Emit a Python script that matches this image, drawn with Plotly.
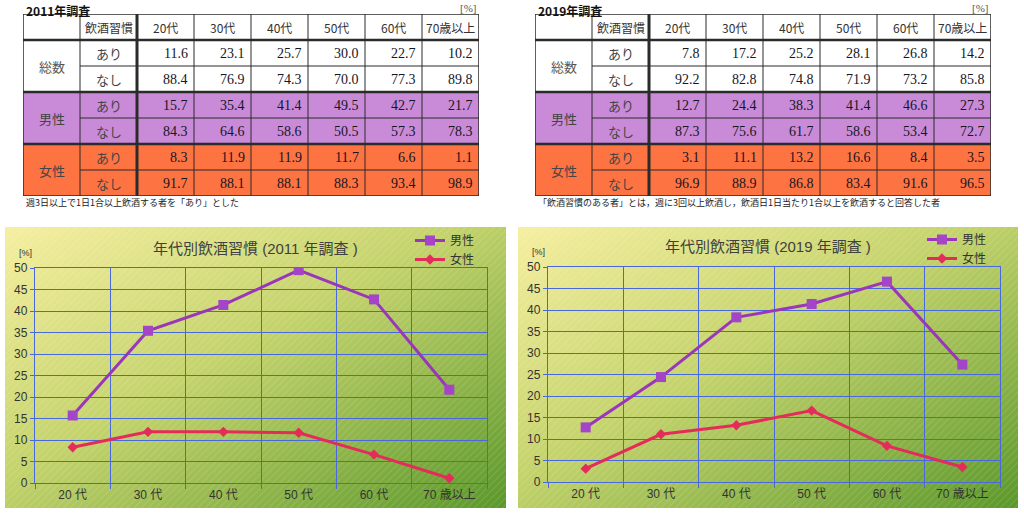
import base64
import plotly.graph_objects as go

# ---------------- data ----------------
ages = ["20代", "30代", "40代", "50代", "60代", "70歳以上"]
chart_ages = ["20 代", "30 代", "40 代", "50 代", "60 代", "70 歳以上"]
habit_labels = ["あり", "なし"]
group_labels = ["総数", "男性", "女性"]
header_label = "飲酒習慣"

total_yes_2011 = [11.6, 23.1, 25.7, 30.0, 22.7, 10.2]
total_no_2011 = [88.4, 76.9, 74.3, 70.0, 77.3, 89.8]
male_yes_2011 = [15.7, 35.4, 41.4, 49.5, 42.7, 21.7]
male_no_2011 = [84.3, 64.6, 58.6, 50.5, 57.3, 78.3]
female_yes_2011 = [8.3, 11.9, 11.9, 11.7, 6.6, 1.1]
female_no_2011 = [91.7, 88.1, 88.1, 88.3, 93.4, 98.9]

total_yes_2019 = [7.8, 17.2, 25.2, 28.1, 26.8, 14.2]
total_no_2019 = [92.2, 82.8, 74.8, 71.9, 73.2, 85.8]
male_yes_2019 = [12.7, 24.4, 38.3, 41.4, 46.6, 27.3]
male_no_2019 = [87.3, 75.6, 61.7, 58.6, 53.4, 72.7]
female_yes_2019 = [3.1, 11.1, 13.2, 16.6, 8.4, 3.5]
female_no_2019 = [96.9, 88.9, 86.8, 83.4, 91.6, 96.5]

table_titles = ["2011年調査", "2019年調査"]
table_notes = ["週3日以上で1日1合以上飲酒する者を「あり」とした",
               "「飲酒習慣のある者」とは，週に3回以上飲酒し，飲酒日1日当たり1合以上を飲酒すると回答した者"]
chart_titles = ["年代別飲酒習慣 (2011 年調査 )", "年代別飲酒習慣 (2019 年調査 )"]
series_names = ["男性", "女性"]
unit_label = "[%]"

# ---------------- styling ----------------
W, H = 1024, 513
JP = "Noto Sans CJK JP, Liberation Sans, sans-serif"
SANS = "Liberation Sans, Noto Sans CJK JP, sans-serif"
SERIF = "Liberation Serif, DejaVu Serif, serif"
group_fill = ["#ffffff", "#c98bd8", "#fe7342"]
border = "#2b2b2b"
grid = "#4868dc"
male_line = "#9a36bb"
male_marker = "#a444c8"
female_line = "#e42c5a"


def px(x):
    return x / W


def py(y):
    return 1 - y / H


fig = go.Figure()

tables = [
    dict(xa="x", ya="y", left=23, right=479,
         data=[[total_yes_2011, total_no_2011], [male_yes_2011, male_no_2011],
               [female_yes_2011, female_no_2011]]),
    dict(xa="x2", ya="y2", left=535, right=991,
         data=[[total_yes_2019, total_no_2019], [male_yes_2019, male_no_2019],
               [female_yes_2019, female_no_2019]]),
]
tab_top, tab_bottom = 14, 196
ncols = 2 + len(ages)
nrows = 1 + 2 * len(group_labels)

shapes = []
annotations = []


def ann(**kw):
    base = dict(showarrow=False, xanchor="center", yanchor="middle")
    base.update(kw)
    annotations.append(base)


for ti, t in enumerate(tables):
    xa, ya = t["xa"], t["ya"]
    axkey = "xaxis" if xa == "x" else "xaxis2"
    aykey = "yaxis" if ya == "y" else "yaxis2"
    fig.update_layout(**{
        axkey: dict(domain=[px(t["left"]), px(t["right"])], range=[0, ncols],
                    visible=False, fixedrange=True, anchor=ya),
        aykey: dict(domain=[py(tab_bottom), py(tab_top)], range=[nrows, 0],
                    visible=False, fixedrange=True, anchor=xa),
    })
    # fills
    for g in range(len(group_labels)):
        shapes.append(dict(type="rect", xref=xa, yref=ya, x0=0, x1=ncols,
                           y0=1 + 2 * g, y1=3 + 2 * g, fillcolor=group_fill[g],
                           line=dict(width=0), layer="below"))
    # grid lines
    for r in range(2, nrows, 2):
        shapes.append(dict(type="line", xref=xa, yref=ya, x0=1, x1=ncols, y0=r, y1=r,
                           line=dict(color=border, width=1)))
    for r in [1, 3, 5]:
        shapes.append(dict(type="line", xref=xa, yref=ya, x0=0, x1=ncols, y0=r, y1=r,
                           line=dict(color=border, width=2.5)))
    for c in range(1, ncols):
        shapes.append(dict(type="line", xref=xa, yref=ya, x0=c, x1=c, y0=0, y1=nrows,
                           line=dict(color=border, width=3 if c == 2 else 1)))
    shapes.append(dict(type="rect", xref=xa, yref=ya, x0=0, x1=ncols, y0=0, y1=nrows,
                       line=dict(color=border, width=1.5)))
    # header
    ann(xref=xa, yref=ya, x=1.5, y=0.5, text=header_label,
        font=dict(family=JP, size=12, color="#333"))
    for i, a in enumerate(ages):
        ann(xref=xa, yref=ya, x=2.5 + i, y=0.5, text=a,
            font=dict(family=JP, size=12, color="#333"))
    # body
    for g, gl in enumerate(group_labels):
        ann(xref=xa, yref=ya, x=0.5, y=2 + 2 * g, text=gl,
            font=dict(family=JP, size=13, color="#555" if g == 0 else "#444"))
        for h, hl in enumerate(habit_labels):
            r = 1 + 2 * g + h
            ann(xref=xa, yref=ya, x=1.5, y=r + 0.5, text=hl,
                font=dict(family=JP, size=13, color="#444"))
            for i, v in enumerate(t["data"][g][h]):
                ann(xref=xa, yref=ya, x=3 + i, y=r + 0.5, text=f"{v:.1f}",
                    xanchor="right", xshift=-4,
                    font=dict(family=SERIF, size=14, color="#16161f"))
    # title, unit, note
    ann(xref="paper", yref="paper", x=px(t["left"] + 1), y=py(0), xanchor="left",
        yanchor="top", text="<b>" + table_titles[ti] + "</b>",
        font=dict(family=JP, size=12, color="#111"))
    ann(xref="paper", yref="paper", x=px(t["right"]), y=py(0), xanchor="right",
        yanchor="top", text=unit_label, font=dict(family=SERIF, size=11, color="#555"))
    ann(xref="paper", yref="paper", x=px(t["left"] + 1), y=py(203), xanchor="left",
        text=table_notes[ti], font=dict(family=JP, size=9, color="#222"))

# ---------------- charts ----------------
svg = """<svg xmlns='http://www.w3.org/2000/svg' width='500' height='282' viewBox='0 0 500 282' preserveAspectRatio='none'>
<defs>
<linearGradient id='g' x1='0' y1='0' x2='1' y2='1'>
<stop offset='0' stop-color='#f6efa0'/>
<stop offset='0.45' stop-color='#c4d36c'/>
<stop offset='1' stop-color='#5b982b'/>
</linearGradient>
<pattern id='p' width='5' height='5' patternUnits='userSpaceOnUse' patternTransform='rotate(45)'>
<line x1='0' y1='0' x2='0' y2='5' stroke='white' stroke-opacity='0.18' stroke-width='1.4'/>
</pattern>
</defs>
<rect width='500' height='282' fill='url(#g)'/>
<rect width='500' height='282' fill='url(#p)'/>
</svg>"""
bg_src = "data:image/svg+xml;base64," + base64.b64encode(svg.encode()).decode()

charts = [
    dict(xa="x3", ya="y3", panel=(5, 227, 506, 508), plot=(35, 268, 487, 483),
         male=male_yes_2011, female=female_yes_2011, legend="legend",
         title_x=255, title_y=248, leg_x=410),
    dict(xa="x4", ya="y4", panel=(518, 227, 1018, 508), plot=(548, 267, 1000, 482),
         male=male_yes_2019, female=female_yes_2019, legend="legend2",
         title_x=768, title_y=247, leg_x=922),
]

images = []
for ci, c in enumerate(charts):
    p0x, p0y, p1x, p1y = c["panel"]
    images.append(dict(source=bg_src, xref="paper", yref="paper", x=px(p0x), y=py(p0y),
                       sizex=px(p1x - p0x), sizey=(p1y - p0y) / H, sizing="stretch",
                       xanchor="left", yanchor="top", layer="below"))
    l, tp, r, b = c["plot"]
    xk = "xaxis" + c["xa"][1:]
    yk = "yaxis" + c["ya"][1:]
    fig.update_layout(**{
        xk: dict(domain=[px(l), px(r)], anchor=c["ya"], type="category",
                 categoryorder="array", categoryarray=chart_ages, range=[-0.5, len(chart_ages) - 0.5],
                 tickson="boundaries", showgrid=True, gridcolor=grid, gridwidth=1.3,
                 showline=True, linecolor=grid, linewidth=1.3, mirror=True,
                 ticks="outside", ticklen=5, tickcolor=grid, tickwidth=1.3,
                 tickfont=dict(family=SANS, size=12, color="#333"), fixedrange=True),
        yk: dict(domain=[py(b), py(tp)], anchor=c["xa"], range=[0, 50], dtick=5,
                 showgrid=True, gridcolor=grid, gridwidth=1.3, zeroline=False,
                 showline=True, linecolor=grid, linewidth=1.3, mirror=True,
                 ticks="outside", ticklen=4, tickcolor=grid, tickwidth=1.3,
                 tickfont=dict(family=SANS, size=12, color="#333"), fixedrange=True),
    })
    fig.add_trace(go.Scatter(x=chart_ages, y=c["male"], name=series_names[0],
                             xaxis=c["xa"], yaxis=c["ya"], mode="lines+markers",
                             line=dict(color=male_line, width=3),
                             marker=dict(symbol="square", size=10, color=male_marker),
                             legend=c["legend"]))
    fig.add_trace(go.Scatter(x=chart_ages, y=c["female"], name=series_names[1],
                             xaxis=c["xa"], yaxis=c["ya"], mode="lines+markers",
                             line=dict(color=female_line, width=3),
                             marker=dict(symbol="diamond", size=8, color=female_line),
                             legend=c["legend"]))
    ann(xref="paper", yref="paper", x=px(c["title_x"]), y=py(c["title_y"]),
        text=chart_titles[ci], font=dict(family=SANS, size=15, color="#404040"))
    ann(xref="paper", yref="paper", x=px(l - 10), y=py(tp - 15),
        text=unit_label, font=dict(family=SANS, size=9, color="#333"))

leg_common = dict(xanchor="left", yanchor="middle", bgcolor="rgba(0,0,0,0)",
                  font=dict(family=JP, size=12, color="#333"), itemwidth=30,
                  tracegroupgap=0, orientation="v")
fig.update_layout(
    width=W, height=H, margin=dict(l=0, r=0, t=0, b=0, autoexpand=False),
    paper_bgcolor="white", plot_bgcolor="rgba(0,0,0,0)",
    shapes=shapes, annotations=annotations, images=images,
    showlegend=True,
    legend=dict(x=px(charts[0]["leg_x"]), y=py(250), **leg_common),
    legend2=dict(x=px(charts[1]["leg_x"]), y=py(249), **leg_common),
)

fig.write_html("out.html", config={"displayModeBar": False},
               post_script="document.body.style.margin='0';document.body.style.padding='0';")
